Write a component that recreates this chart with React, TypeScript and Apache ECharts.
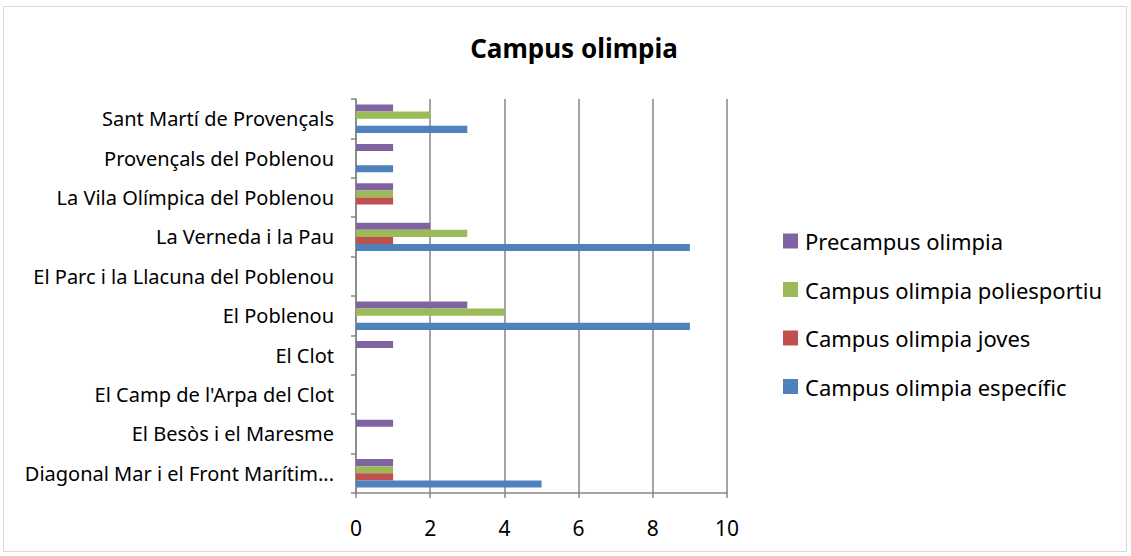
import React, { useEffect, useRef } from "react";
import * as echarts from "echarts";

const categories = [
  "Diagonal Mar i el Front Marítim...",
  "El Besòs i el Maresme",
  "El Camp de l'Arpa del Clot",
  "El Clot",
  "El Poblenou",
  "El Parc i la Llacuna del Poblenou",
  "La Verneda i la Pau",
  "La Vila Olímpica del Poblenou",
  "Provençals del Poblenou",
  "Sant Martí de Provençals",
];

const especific = [5, 0, 0, 0, 9, 0, 9, 0, 1, 3];
const joves = [1, 0, 0, 0, 0, 0, 1, 1, 0, 0];
const poliesportiu = [1, 0, 0, 0, 4, 0, 3, 1, 0, 2];
const precampus = [1, 1, 0, 1, 3, 0, 2, 1, 1, 1];

const xTicks = { min: 0, max: 10, interval: 2 };

const FONT = "Noto Sans";

export default function App() {
  const ref = useRef<HTMLDivElement>(null);
  useEffect(() => {
    document.body.style.margin = "0";
    const chart = echarts.init(ref.current!, undefined, { renderer: "svg" });
    const mk = (name: string, data: number[], color: string) => ({
      name,
      type: "bar",
      data,
      barGap: "0%",
      barCategoryGap: "28%",
      itemStyle: { color },
    });
    chart.setOption({
      animation: false,
      backgroundColor: "#ffffff",
      title: {
        text: "Campus olimpia",
        left: 569,
        textAlign: "center",
        top: 30,
        textStyle: { fontFamily: FONT, fontSize: 26, fontWeight: "bold", color: "#000" },
      },
      graphic: [
        {
          type: "rect",
          shape: { x: 3.5, y: 6.5, width: 1123, height: 545 },
          style: { fill: "none", stroke: "#d9d9d9", lineWidth: 1 },
          silent: true,
        },
      ],
      legend: {
        orient: "vertical",
        left: 778,
        top: 225,
        itemGap: 26.5,
        itemWidth: 15,
        itemHeight: 15,
        icon: "rect",
        data: [
          "Precampus olimpia",
          "Campus olimpia poliesportiu",
          "Campus olimpia joves",
          "Campus olimpia específic",
        ],
        textStyle: { fontFamily: FONT, fontSize: 22, lineHeight: 22, color: "#000", padding: [0, 0, 0, 2] },
      },
      grid: { left: 356, right: 404, top: 99, bottom: 63 },
      xAxis: {
        type: "value",
        min: xTicks.min,
        max: xTicks.max,
        interval: xTicks.interval,
        axisLine: { show: true, lineStyle: { color: "#868686", width: 1.5 } },
        axisTick: { show: true, length: 5, lineStyle: { color: "#868686", width: 1.5 } },
        splitLine: { show: true, lineStyle: { color: "#868686", width: 1.5 } },
        axisLabel: { fontFamily: FONT, fontSize: 21, color: "#000", margin: 24 },
      },
      yAxis: {
        type: "category",
        data: categories,
        axisLine: { show: true, lineStyle: { color: "#868686", width: 1.5 } },
        axisTick: { show: true, length: 5, lineStyle: { color: "#868686", width: 1.5 } },
        axisLabel: { fontFamily: FONT, fontSize: 20, color: "#000", margin: 22 },
      },
      series: [
        mk("Precampus olimpia", precampus, "#8064a2"),
        mk("Campus olimpia poliesportiu", poliesportiu, "#9bbb59"),
        mk("Campus olimpia joves", joves, "#c0504d"),
        mk("Campus olimpia específic", especific, "#4f81bd"),
      ],
    });
    return () => chart.dispose();
  }, []);
  return <div ref={ref} style={{ width: 1131, height: 556 }} />;
}
